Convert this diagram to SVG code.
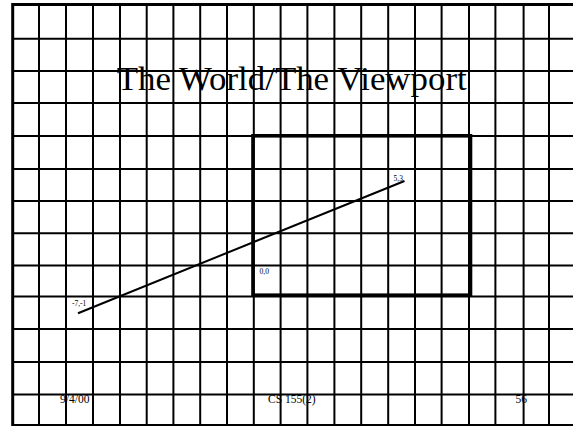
<svg xmlns="http://www.w3.org/2000/svg" width="573" height="426" viewBox="0 0 573 426">
<style>
.g{stroke:#000;stroke-width:2;fill:none}
.b{stroke:#000;stroke-width:3;fill:none}
.t{font-family:"Liberation Serif","Times New Roman",serif;fill:#000}
.s{font-family:"Liberation Serif","Times New Roman",serif;font-size:7.5px;fill:#000}
.f{font-family:"Liberation Serif","Times New Roman",serif;font-size:11.5px;fill:#000}
</style>
<rect x="0" y="0" width="573" height="426" fill="#fff"/>
<g id="grid">
<g class="g">
<path d="M39,4.5V426M66,4.5V426M93,4.5V426M120,4.5V426M146.7,4.5V426M173.4,4.5V426M200.2,4.5V426M227,4.5V426M253.8,4.5V426M280.6,4.5V426M307.4,4.5V426M334.4,4.5V426M361.2,4.5V426M388.2,4.5V426M415,4.5V426M441.6,4.5V426M469,4.5V426M495.4,4.5V426M523.6,4.5V426M549,4.5V426"/>
<path d="M12.7,38.8H573M12.7,71H573M12.7,103H573M12.7,136H573M12.7,169H573M12.7,201H573M12.7,233.3H573M12.7,265.5H573M12.7,296.5H573M12.7,329H573M12.7,362H573M12.7,394.5H573M12.7,425H573"/>
</g>
<path class="b" d="M12.7,426V4.5H573"/>
</g>
<g id="title">
<text class="t" x="116.7" y="90" font-size="34" textLength="350" lengthAdjust="spacingAndGlyphs">The World/The Viewport</text>
</g>
<g id="viewport">
<rect x="253" y="135.8" width="217.5" height="159.4" fill="none" stroke="#000" stroke-width="3.6"/>
<text class="s" x="259.5" y="274">0,0</text>
</g>
<g id="connectors">
<line x1="78" y1="313.2" x2="404.5" y2="181" stroke="#000" stroke-width="2"/>
</g>
<g id="labels">
<text class="s" x="72" y="306">-7,-1</text>
<text class="s" x="393.5" y="181">5,3</text>
</g>
<g id="footer">
<text class="f" x="60" y="403">9/4/00</text>
<text class="f" x="268" y="403">CS 155(2)</text>
<text class="f" x="515.5" y="403">56</text>
</g>
</svg>
